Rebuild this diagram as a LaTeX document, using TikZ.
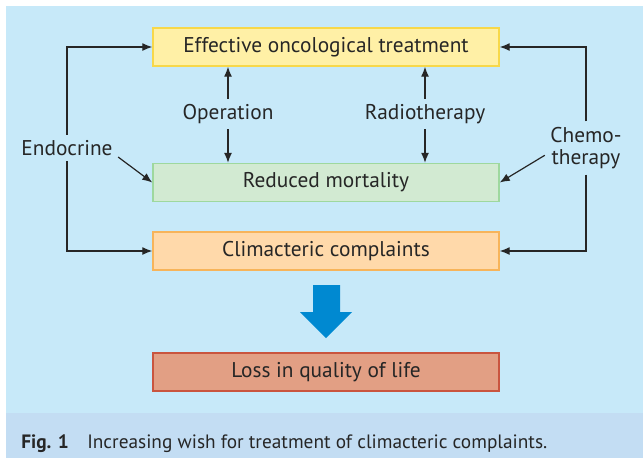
\documentclass[tikz,border=0pt]{standalone}
\usepackage{fontspec}
\setmainfont{PT Sans}
\usetikzlibrary{arrows.meta}
\definecolor{panelblue}{HTML}{C7E9F9}
\definecolor{captionblue}{HTML}{C3DDF3}
\definecolor{inkgray}{HTML}{262626}
\definecolor{treatfill}{HTML}{FFF0A6}
\definecolor{treatline}{HTML}{F7D84A}
\definecolor{mortfill}{HTML}{D2EAD2}
\definecolor{mortline}{HTML}{9ED89E}
\definecolor{climfill}{HTML}{FFD9AA}
\definecolor{climline}{HTML}{F7B45A}
\definecolor{lossfill}{HTML}{E29F84}
\definecolor{lossline}{HTML}{C9553F}
\definecolor{arrowblue}{HTML}{0089D1}

\begin{document}
\begin{tikzpicture}[
    x=0.75pt, y=-0.75pt,
    box/.style={
        line width=1.1pt,
        minimum width=259.5pt,
        minimum height=28.5pt,
        inner sep=0pt,
        text=inkgray,
        font=\fontsize{16}{18}\selectfont
    },
    lbl/.style={
        text=inkgray,
        align=center,
        inner sep=4pt,
        font=\fontsize{16}{17}\selectfont
    },
    link/.style={draw=inkgray, line width=0.9pt, -{Latex[length=7.5pt,width=6pt]}}
]
\useasboundingbox (0,0) rectangle (643,458);
\fill[panelblue] (6,6) rectangle (643,413);
\fill[captionblue] (6,413) rectangle (643,458);

% boxes
\node[box, fill=treatfill, draw=treatline] (treat) at (326,47) {Effective oncological treatment};
\node[box, fill=mortfill, draw=mortline] (mort) at (326,182.5) {Reduced mortality};
\node[box, fill=climfill, draw=climline] (clim) at (326,251) {Climacteric complaints};
\node[box, fill=lossfill, draw=lossline] (loss) at (326,372) {Loss in quality of life};

% therapies
\node[lbl] (op) at (228,114) {Operation};
\node[lbl] (radio) at (425,114) {Radiotherapy};
\node[lbl] (endo) at (67,148) {Endocrine};
\node[lbl] (chemo) at (586,148) {Chemo-\\therapy};

\draw[link] (op.north) -- (op.north |- treat.south);
\draw[link] (op.south) -- (op.south |- mort.north);
\draw[link] (radio.north) -- (radio.north |- treat.south);
\draw[link] (radio.south) -- (radio.south |- mort.north);

\draw[link] (endo.north) |- (treat.west);
\draw[link] (endo.south) |- (clim.west);
\draw[link] (endo.-10) -- (mort.west);
\draw[link] (chemo.north) |- (treat.east);
\draw[link] (chemo.south) |- (clim.east);
\draw[link] (chemo.190) -- (mort.east);

% big arrow
\fill[arrowblue] (313,285) -- (340,285) -- (340,312) -- (352,312) -- (326,338)
    -- (300,312) -- (313,312) -- cycle;

% caption
\node[anchor=base west, inner sep=0pt, text=inkgray, font=\fontsize{14.5}{16}\selectfont\bfseries] (fig) at (21,448) {Fig. 1};
\node[anchor=base west, inner sep=0pt, text=inkgray, font=\fontsize{14.5}{16}\selectfont] (cap) at (87,448) {Increasing wish for treatment of climacteric complaints.};
\end{tikzpicture}
\end{document}
